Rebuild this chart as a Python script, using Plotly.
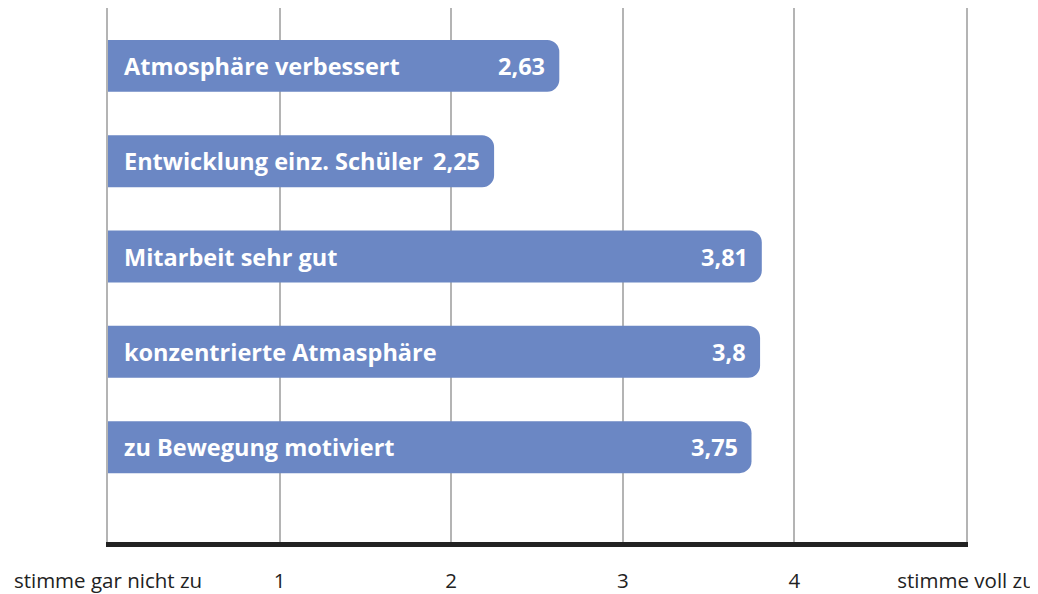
import plotly.graph_objects as go

categories = ["Atmosphäre verbessert", "Entwicklung einz. Schüler", "Mitarbeit sehr gut",
              "konzentrierte Atmasphäre", "zu Bewegung motiviert"]
values = [2.63, 2.25, 3.81, 3.8, 3.75]
tick_vals = [0, 1, 2, 3, 4, 5]
tick_text = ["stimme gar nicht zu", "1", "2", "3", "4", "stimme voll zu"]

bar_color = "#6b87c4"
grid_color = "#b4b4b4"
font_family = "'Open Sans', Roboto, sans-serif"

fig = go.Figure()
fig.add_trace(go.Bar(
    x=values, y=categories, orientation="h",
    marker=dict(color=bar_color, cornerradius=12, line=dict(width=0)),
    width=0.545, hoverinfo="skip",
))

annotations = []
for cat, v in zip(categories, values):
    annotations.append(dict(x=0, y=cat, xref="x", yref="y", text=cat, showarrow=False,
                            xanchor="left", xshift=14,
                            font=dict(family=font_family, size=23.5, color="white", weight=700)))
    annotations.append(dict(x=v, y=cat, xref="x", yref="y", text=f"{v}".replace(".", ","),
                            showarrow=False, xanchor="right", xshift=-12,
                            font=dict(family=font_family, size=23.5, color="white", weight=700)))

fig.update_layout(
    width=1046, height=586,
    margin=dict(l=100, r=88, t=0, b=49),
    paper_bgcolor="white", plot_bgcolor="white",
    showlegend=False,
    annotations=annotations,
    xaxis=dict(range=[0, 5], tickvals=tick_vals, ticktext=tick_text,
               showgrid=True, gridcolor=grid_color, gridwidth=1.5, zeroline=False,
               showline=True, linecolor="#222222", linewidth=5,
               ticks="outside", ticklen=16, tickcolor="rgba(0,0,0,0)",
               tickfont=dict(family=font_family, size=20.5, color="#222222")),
    yaxis=dict(categoryorder="array", categoryarray=categories,
               range=[4.995, -0.607], showticklabels=False, showgrid=False,
               zeroline=False, showline=True, mirror=True,
               linecolor=grid_color, linewidth=1.5),
)

fig.write_html("out.html")
